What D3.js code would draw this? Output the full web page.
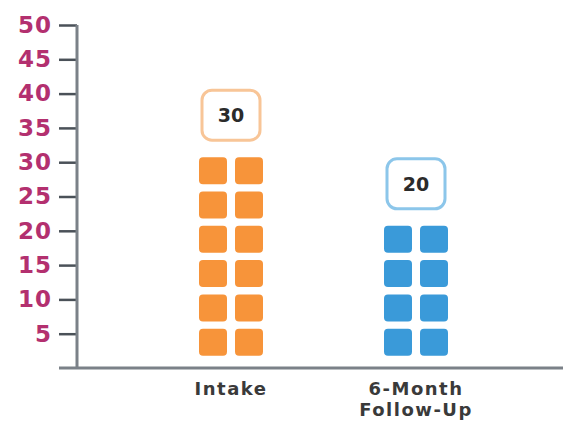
<!DOCTYPE html>
<html>
<head>
<meta charset="utf-8">
<script src="https://cdn.jsdelivr.net/npm/d3@7"></script>
<style>
  html, body { margin: 0; padding: 0; background: #ffffff; }
  svg { display: block; }
</style>
</head>
<body>
<svg id="chart" width="563" height="423"></svg>
<script>
// Survey points, one stack per time point; each row of blocks stands for 5
const categories = ["Intake", "6-Month Follow-Up"];
const labelLines = [["Intake"], ["6-Month", "Follow-Up"]];
const values = [30, 20];
const colors = ["#f7943a", "#3a9ad9"];
const boxStrokes = ["#f8c597", "#8cc6ea"];
const yTicks = [5, 10, 15, 20, 25, 30, 35, 40, 45, 50];
const unitPerRow = 5;

const svg = d3.select("#chart");

const y = d3.scaleLinear().domain([0, 50]).range([368, 25]);
const x = d3.scalePoint().domain(categories).range([231, 416]);

const axisX = 77;

// y axis with ticks on the left
const yAxis = d3.axisLeft(y)
  .tickValues(yTicks)
  .tickSize(18)
  .tickPadding(7)
  .tickFormat(d3.format("d"));

const gy = svg.append("g")
  .attr("transform", `translate(${axisX},0)`)
  .call(yAxis);
gy.select(".domain").remove();
gy.selectAll(".tick line")
  .attr("stroke", "#4a5158")
  .attr("stroke-width", 2.5);
gy.selectAll(".tick text")
  .attr("fill", "#b3306f")
  .attr("font-family", "'DejaVu Sans', sans-serif")
  .attr("font-size", 23)
  .attr("font-weight", 700)
  .attr("letter-spacing", 1);

// vertical axis line
svg.append("line")
  .attr("x1", axisX).attr("x2", axisX)
  .attr("y1", y(50)).attr("y2", y(0))
  .attr("stroke", "#7b8188")
  .attr("stroke-width", 3);

// baseline
svg.append("line")
  .attr("x1", 59).attr("x2", 563)
  .attr("y1", y(0)).attr("y2", y(0))
  .attr("stroke", "#7b8188")
  .attr("stroke-width", 3);

// stacked blocks
const blockW = 28, blockGap = 8, blockH = 27, lift = 5;
const cells = [];
categories.forEach((c, i) => {
  const rows = values[i] / unitPerRow;
  for (let r = 0; r < rows; r++) {
    for (let col = 0; col < 2; col++) {
      cells.push({ c, i, r, col });
    }
  }
});

svg.append("g").selectAll("rect")
  .data(cells)
  .join("rect")
  .attr("x", d => x(d.c) + (d.col === 0 ? -blockGap / 2 - blockW : blockGap / 2))
  .attr("y", d => y((d.r + 1) * unitPerRow) - lift)
  .attr("width", blockW)
  .attr("height", blockH)
  .attr("rx", 4)
  .attr("fill", d => colors[d.i]);

// value callouts above each stack
const boxW = 58, boxH = 50;
const callouts = svg.append("g").selectAll("g")
  .data(categories)
  .join("g")
  .attr("transform", (c, i) => `translate(${x(c)},${y(values[i]) - 47})`);

callouts.append("rect")
  .attr("x", -boxW / 2)
  .attr("y", -boxH / 2)
  .attr("width", boxW)
  .attr("height", boxH)
  .attr("rx", 10)
  .attr("fill", "#ffffff")
  .attr("stroke", (c, i) => boxStrokes[i])
  .attr("stroke-width", 3);

callouts.append("text")
  .attr("text-anchor", "middle")
  .attr("dy", "0.36em")
  .attr("font-family", "'DejaVu Sans', sans-serif")
  .attr("font-size", 19)
  .attr("font-weight", 700)
  .attr("fill", "#2b2b2b")
  .text((c, i) => values[i]);

// category labels under the baseline, one text per line
const catLines = [];
categories.forEach((c, i) => {
  labelLines[i].forEach((t, k) => catLines.push({ c, t, k }));
});

svg.append("g").selectAll("text")
  .data(catLines)
  .join("text")
  .attr("x", d => x(d.c))
  .attr("y", d => 395 + d.k * 21)
  .attr("text-anchor", "middle")
  .attr("font-family", "'DejaVu Sans', sans-serif")
  .attr("font-size", 18)
  .attr("font-weight", 700)
  .attr("letter-spacing", 1.5)
  .attr("fill", "#3a3a3a")
  .text(d => d.t);
</script>
</body>
</html>
